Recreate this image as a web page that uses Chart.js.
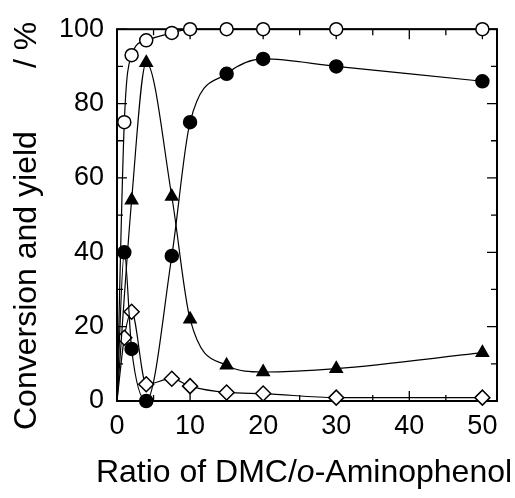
<!DOCTYPE html>
<html>
<head>
<meta charset="utf-8">
<script src="https://cdn.jsdelivr.net/npm/chart.js@4.4.0/dist/chart.umd.min.js"></script>
<style>
  body { margin: 0; background: #fff; }
  #wrap { width: 515px; height: 498px; position: relative; }
</style>
</head>
<body>
<div id="wrap"><canvas id="chart"></canvas></div>
<script>
// Ratio of DMC / o-aminophenol (x values)
const ratio = [0, 1, 2, 4, 7.5, 10, 15, 20, 30, 50];

// Series (%)
const conversion = [0, 75, 93, 97, 99, 100, 100, 100, 100, 100];   // open circles
const yieldCircle = [0, 40, 14, 0, 39, 75, 88, 92, 90, 86];         // filled circles
const yieldTriangle = [0, null, 54, 91, 55, 22, 9.6, 7.8, 8.7, 13]; // filled triangles
const yieldDiamond = [0, 17, 24, 4.5, 6, 4, 2.3, 2, 0.9, 0.9];      // open diamonds

// Axis ticks
const xTicks = [0, 10, 20, 30, 40, 50];
const yTicks = [0, 20, 40, 60, 80, 100];

const FONT = '"Liberation Sans", Arial, Helvetica, sans-serif';

function toPoints(ys) {
  return ratio.map((x, i) => ({ x: x, y: ys[i] })).filter(p => p.y !== null);
}

// no marker at the origin point
function radii(ys, r) {
  return toPoints(ys).map(p => (p.x === 0 ? 0 : r));
}

function series(ys, style, fill, r) {
  return {
    data: toPoints(ys),
    pointStyle: style,
    pointRadius: radii(ys, r),
    pointHoverRadius: radii(ys, r),
    pointBackgroundColor: fill,
    pointBorderColor: '#000',
    pointBorderWidth: 1.5,
    borderColor: '#000',
    borderWidth: 1.2,
    cubicInterpolationMode: 'monotone',
    fill: false,
    clip: false
  };
}

// Frame, inward ticks and axis titles
const framePlugin = {
  id: 'frame',
  beforeDatasetsDraw(chart) {
    const ctx = chart.ctx;
    const a = chart.chartArea;
    const xs = chart.scales.x;
    const ys = chart.scales.y;
    ctx.save();
    ctx.strokeStyle = '#000';
    ctx.lineWidth = 2;
    ctx.strokeRect(a.left, a.top, a.right - a.left, a.bottom - a.top);
    ctx.lineWidth = 1.3;
    ctx.beginPath();
    for (let v = 0; v <= 50; v += 5) {
      const px = xs.getPixelForValue(v);
      const len = v % 10 === 0 ? 10 : 6;
      ctx.moveTo(px, a.bottom); ctx.lineTo(px, a.bottom - len);
      ctx.moveTo(px, a.top); ctx.lineTo(px, a.top + len);
    }
    for (let v = 0; v <= 100; v += 10) {
      const py = ys.getPixelForValue(v);
      const len = v % 20 === 0 ? 10 : 6;
      ctx.moveTo(a.left, py); ctx.lineTo(a.left + len, py);
      ctx.moveTo(a.right, py); ctx.lineTo(a.right - len, py);
    }
    ctx.stroke();
    ctx.restore();
  },
  afterDraw(chart) {
    const ctx = chart.ctx;
    ctx.save();
    ctx.fillStyle = '#000';
    ctx.textBaseline = 'alphabetic';

    // x title with italic "o"
    const parts = [
      ['Ratio of DMC/', 'normal'],
      ['o', 'italic'],
      ['-Aminophenol', 'normal']
    ];
    let total = 0;
    parts.forEach(p => {
      ctx.font = p[1] + ' 32px ' + FONT;
      total += ctx.measureText(p[0]).width;
    });
    let x = 304 - total / 2;
    parts.forEach(p => {
      ctx.font = p[1] + ' 32px ' + FONT;
      ctx.fillText(p[0], x, 482);
      x += ctx.measureText(p[0]).width;
    });

    // y title, rotated
    ctx.translate(36, 0);
    ctx.rotate(-Math.PI / 2);
    ctx.font = '32px ' + FONT;
    ctx.textAlign = 'left';
    ctx.fillText('Conversion and yield', -430, 0);
    ctx.fillText('/ %', -68, 0);
    ctx.restore();
  }
};

new Chart(document.getElementById('chart'), {
  type: 'line',
  data: {
    datasets: [
      series(conversion, 'circle', '#fff', 6.5),
      series(yieldCircle, 'circle', '#000', 6.5),
      series(yieldTriangle, 'triangle', '#000', 7),
      series(yieldDiamond, 'rectRot', '#fff', 7.5)
    ]
  },
  options: {
    responsive: true,
    maintainAspectRatio: false,
    animation: false,
    spanGaps: true,
    layout: { padding: { left: 0, top: 25, right: 18, bottom: 0 } },
    plugins: { legend: { display: false }, tooltip: { enabled: false } },
    scales: {
      x: {
        type: 'linear',
        min: 0,
        max: 52,
        afterFit(scale) { scale.height = 97; },
        afterBuildTicks(scale) { scale.ticks = xTicks.map(v => ({ value: v })); },
        grid: { display: false, drawTicks: false },
        border: { display: false },
        ticks: { color: '#000', padding: 9, maxRotation: 0, font: { family: FONT, size: 27 } }
      },
      y: {
        type: 'linear',
        min: 0,
        max: 100,
        afterFit(scale) { scale.width = 117; },
        afterBuildTicks(scale) { scale.ticks = yTicks.map(v => ({ value: v })); },
        grid: { display: false, drawTicks: false },
        border: { display: false },
        ticks: { color: '#000', padding: 13, font: { family: FONT, size: 27 } }
      }
    }
  },
  plugins: [framePlugin]
});
</script>
</body>
</html>
